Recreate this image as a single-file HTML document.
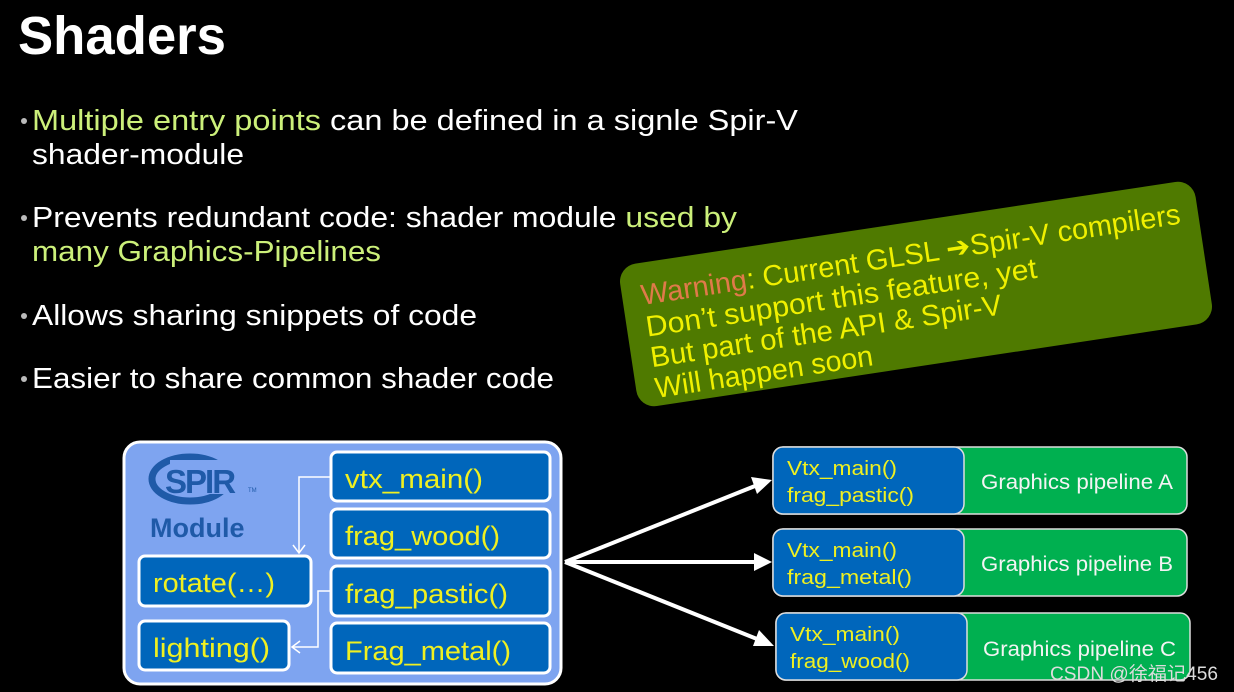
<!DOCTYPE html>
<html><head><meta charset="utf-8"><style>
html,body{margin:0;padding:0;background:#000;}
svg{display:block}
text{font-family:"Liberation Sans","Noto Sans CJK SC",sans-serif;}
</style></head><body>
<svg width="1234" height="692" viewBox="0 0 1234 692" xmlns="http://www.w3.org/2000/svg">
<rect width="1234" height="692" fill="#000"/>
<text x="18" y="54" font-size="54" font-weight="bold" fill="#fff" textLength="208" lengthAdjust="spacingAndGlyphs">Shaders</text>
<g font-size="29" fill="#fff">
<circle cx="24" cy="121" r="3" fill="#bbb"/>
<text x="32" y="130" textLength="766" lengthAdjust="spacingAndGlyphs"><tspan fill="#ccf07a">Multiple entry points</tspan> can be defined in a signle Spir-V</text>
<text x="32" y="164" textLength="212" lengthAdjust="spacingAndGlyphs">shader-module</text>
<circle cx="24" cy="218" r="3" fill="#bbb"/>
<text x="32" y="227" textLength="705" lengthAdjust="spacingAndGlyphs">Prevents redundant code: shader module <tspan fill="#ccf07a">used by</tspan></text>
<text x="32" y="261" textLength="349" lengthAdjust="spacingAndGlyphs" fill="#ccf07a">many Graphics-Pipelines</text>
<circle cx="24" cy="316" r="3" fill="#bbb"/>
<text x="32" y="325" textLength="445" lengthAdjust="spacingAndGlyphs">Allows sharing snippets of code</text>
<circle cx="24" cy="379" r="3" fill="#bbb"/>
<text x="32" y="388" textLength="522" lengthAdjust="spacingAndGlyphs">Easier to share common shader code</text>
</g>
<g transform="translate(916,294) rotate(-8.6)">
<rect x="-291" y="-72" width="582" height="144" rx="18" fill="#4f7a00"/>
<g font-size="29" fill="#f0f000">
<text x="-272" y="-30" textLength="545" lengthAdjust="spacingAndGlyphs"><tspan fill="#e07a4a">Warning</tspan>: Current GLSL ➔Spir-V compilers</text>
<text x="-272" y="2" textLength="395" lengthAdjust="spacingAndGlyphs">Don’t support this feature, yet</text>
<text x="-272" y="33" textLength="355" lengthAdjust="spacingAndGlyphs">But part of the API &amp; Spir-V</text>
<text x="-272" y="64" textLength="220" lengthAdjust="spacingAndGlyphs">Will happen soon</text>
</g>
</g>
<rect x="124" y="442" width="437" height="242" rx="16" fill="#7ea4f0" stroke="#fff" stroke-width="3"/>
<ellipse cx="190" cy="479" rx="38" ry="22" fill="none" stroke="#1f5aa8" stroke-width="7"/>
<rect x="170" y="460" width="80" height="34" fill="#7ea4f0"/>
<text x="165" y="493" font-size="33" font-weight="bold" fill="#1f5aa8" letter-spacing="-2">SPIR</text>
<text x="248" y="492" font-size="6" fill="#1f5aa8">TM</text>
<text x="150" y="537" font-size="27" font-weight="bold" fill="#1f5aa8">Module</text>
<g fill="#0066bb" stroke="#fff" stroke-width="3">
<rect x="331" y="452" width="219" height="49" rx="6"/>
<rect x="331" y="509" width="219" height="49" rx="6"/>
<rect x="331" y="566" width="219" height="50" rx="6"/>
<rect x="331" y="623" width="219" height="50" rx="6"/>
<rect x="139" y="556" width="172" height="50" rx="6"/>
<rect x="139" y="621" width="150" height="49" rx="6"/>
</g>
<g fill="none" stroke="#fff" stroke-width="1.5">
<path d="M331 477 H299 V553"/><path d="M293 545 L299 553 L305 545"/>
<path d="M331 591 H318 V647 H292"/><path d="M300 641 L292 647 L300 653"/>
</g>
<g font-size="27" fill="#f0f020">
<text x="345" y="488" textLength="138" lengthAdjust="spacingAndGlyphs">vtx_main()</text>
<text x="345" y="545" textLength="155" lengthAdjust="spacingAndGlyphs">frag_wood()</text>
<text x="345" y="603" textLength="163" lengthAdjust="spacingAndGlyphs">frag_pastic()</text>
<text x="345" y="660" textLength="166" lengthAdjust="spacingAndGlyphs">Frag_metal()</text>
<text x="153" y="592" textLength="122" lengthAdjust="spacingAndGlyphs">rotate(…)</text>
<text x="153" y="657" textLength="117" lengthAdjust="spacingAndGlyphs">lighting()</text>
</g>
<g stroke="#fff" stroke-width="4" fill="#fff">
<line x1="565" y1="562" x2="755" y2="486"/>
<line x1="565" y1="562" x2="755" y2="562"/>
<line x1="565" y1="562" x2="757" y2="639"/>
<polygon points="772,480 751,477 757,494" stroke="none"/>
<polygon points="772,562 754,553 754,571" stroke="none"/>
<polygon points="774,646 759,630 753,646" stroke="none"/>
</g>
<g stroke="#ddd" stroke-width="1.5">
<rect x="773" y="447" width="414" height="67" rx="10" fill="#00b050"/>
<rect x="773" y="447" width="191" height="67" rx="10" fill="#0066bb"/>
<rect x="773" y="529" width="414" height="67" rx="10" fill="#00b050"/>
<rect x="773" y="529" width="191" height="67" rx="10" fill="#0066bb"/>
<rect x="776" y="613" width="414" height="67" rx="10" fill="#00b050"/>
<rect x="776" y="613" width="191" height="67" rx="10" fill="#0066bb"/>
</g>
<g font-size="20" fill="#f0f020">
<text x="787" y="475" textLength="110" lengthAdjust="spacingAndGlyphs">Vtx_main()</text><text x="787" y="502" textLength="127" lengthAdjust="spacingAndGlyphs">frag_pastic()</text>
<text x="787" y="557" textLength="110" lengthAdjust="spacingAndGlyphs">Vtx_main()</text><text x="787" y="584" textLength="125" lengthAdjust="spacingAndGlyphs">frag_metal()</text>
<text x="790" y="641" textLength="110" lengthAdjust="spacingAndGlyphs">Vtx_main()</text><text x="790" y="668" textLength="120" lengthAdjust="spacingAndGlyphs">frag_wood()</text>
</g>
<g font-size="21" fill="#f4f4f4">
<text x="981" y="489" textLength="192" lengthAdjust="spacingAndGlyphs">Graphics pipeline A</text>
<text x="981" y="571" textLength="192" lengthAdjust="spacingAndGlyphs">Graphics pipeline B</text>
<text x="983" y="656" textLength="193" lengthAdjust="spacingAndGlyphs">Graphics pipeline C</text>
</g>
<text x="1050" y="680" font-size="19" fill="#ddd" textLength="168" lengthAdjust="spacingAndGlyphs">CSDN @徐福记456</text>
</svg>
</body></html>
